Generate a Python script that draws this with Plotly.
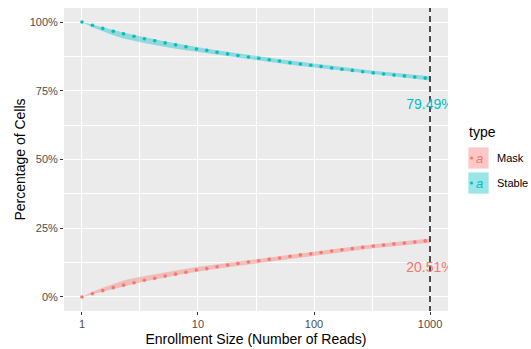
import plotly.graph_objects as go

# ---- data ----
reads = [1, 1.23, 1.51, 1.86, 2.28, 2.81, 3.45, 4.24, 5.21, 6.41, 7.88, 9.68,
         11.9, 14.6, 18.0, 22.1, 27.2, 33.4, 41.1, 50.5, 62.1, 76.3, 93.8, 115,
         142, 174, 214, 263, 324, 398, 489, 601, 739, 908]
stable_pct = [100, 98.8, 97.7, 96.6, 95.7, 94.8, 93.9, 93.2, 92.4, 91.7, 91.0, 90.2,
              89.7, 89.0, 88.4, 87.8, 87.3, 86.8, 86.3, 85.8, 85.2, 84.7, 84.3, 83.8,
              83.3, 82.8, 82.4, 81.9, 81.5, 81.1, 80.7, 80.4, 80.0, 79.6]
mask_pct = [0, 1.2, 2.3, 3.4, 4.3, 5.2, 6.1, 6.8, 7.6, 8.3, 9.0, 9.8,
            10.3, 11.0, 11.6, 12.2, 12.7, 13.2, 13.7, 14.2, 14.8, 15.3, 15.7, 16.2,
            16.7, 17.2, 17.6, 18.1, 18.5, 18.9, 19.3, 19.6, 20.0, 20.4]

ribbon_reads = reads + [1000]
stable_hi = [100, 99.0, 98.0, 97.0, 96.2, 95.3, 94.4, 93.7, 92.9, 92.2, 91.5, 90.8,
             90.3, 89.7, 89.1, 88.5, 88.0, 87.5, 87.0, 86.5, 86.0, 85.5, 85.1, 84.6,
             84.1, 83.6, 83.2, 82.7, 82.3, 81.9, 81.5, 81.2, 80.8, 80.4, 80.3]
stable_lo = [100, 98.1, 96.6, 95.2, 94.0, 93.1, 92.4, 91.6, 90.9, 90.3, 89.7, 89.1,
             88.6, 88.1, 87.5, 87.0, 86.5, 86.0, 85.5, 85.0, 84.5, 84.0, 83.6, 83.1,
             82.6, 82.1, 81.7, 81.3, 80.9, 80.5, 80.1, 79.7, 79.3, 78.9, 78.7]
mask_hi = [0, 1.9, 3.4, 4.8, 6.0, 6.9, 7.6, 8.4, 9.1, 9.7, 10.3, 10.9,
           11.4, 11.9, 12.5, 13.0, 13.5, 14.0, 14.5, 15.0, 15.5, 16.0, 16.4, 16.9,
           17.4, 17.9, 18.3, 18.7, 19.1, 19.5, 19.9, 20.3, 20.7, 21.1, 21.3]
mask_lo = [0, 1.0, 2.0, 3.0, 3.8, 4.7, 5.6, 6.3, 7.1, 7.8, 8.5, 9.2,
           9.7, 10.3, 10.9, 11.5, 12.0, 12.5, 13.0, 13.5, 14.0, 14.5, 14.9, 15.4,
           15.9, 16.4, 16.8, 17.3, 17.7, 18.1, 18.5, 18.8, 19.2, 19.6, 19.7]

cutoff_reads = 1000
final_labels = ["79.49%", "20.51%"]
final_label_y = [69.49, 10.51]

x_tickvals = [1, 10, 100, 1000]
x_ticktext = ["1", "10", "100", "1000"]
y_tickvals = [0, 25, 50, 75, 100]
y_ticktext = ["0%", "25%", "50%", "75%", "100%"]

RED = "#F8766D"
TEAL = "#00BFC4"
RED_A = "rgba(248,118,109,0.4)"
TEAL_A = "rgba(0,191,196,0.4)"
FONT = "Liberation Sans, Arial, sans-serif"

fig = go.Figure()

for hi, lo, col in [(mask_hi, mask_lo, RED_A), (stable_hi, stable_lo, TEAL_A)]:
    fig.add_trace(go.Scatter(
        x=ribbon_reads + ribbon_reads[::-1], y=hi + lo[::-1],
        fill="toself", fillcolor=col, line=dict(width=0),
        mode="lines", hoverinfo="skip", showlegend=False))

for vals, col in [(mask_pct, RED), (stable_pct, TEAL)]:
    fig.add_trace(go.Scatter(
        x=reads, y=vals, mode="markers",
        marker=dict(color=col, size=3.6, line=dict(width=0)),
        showlegend=False, cliponaxis=False))

fig.add_trace(go.Scatter(
    x=[cutoff_reads, cutoff_reads], y=[-20, 120], mode="lines",
    line=dict(color="#222222", width=1.6, dash="6px,4px"),
    showlegend=False, hoverinfo="skip"))

fig.add_trace(go.Scatter(
    x=[cutoff_reads, cutoff_reads], y=final_label_y, mode="text",
    text=final_labels, textposition="middle center",
    textfont=dict(color=[TEAL, RED], size=14, family=FONT),
    cliponaxis=True, showlegend=False))

# plot area in pixels
L, R, T, B = 64, 448, 8, 311
W, H = 531, 349

def px(xp):
    return (xp - L) / (R - L)

def py(yp):
    return (B - yp) / (B - T)

shapes = []
annotations = []
legend_items = [("Mask", RED, RED_A, 158), ("Stable", TEAL, TEAL_A, 183)]
for name, col, cola, cy in legend_items:
    shapes.append(dict(type="rect", xref="paper", yref="paper",
                       x0=px(468), x1=px(489), y0=py(cy - 11), y1=py(cy + 11),
                       fillcolor=cola, line=dict(width=0.8, color="white"), layer="above"))
    shapes.append(dict(type="circle", xref="paper", yref="paper",
                       xsizemode="pixel", ysizemode="pixel",
                       xanchor=px(471.5), yanchor=py(cy),
                       x0=-1.6, x1=1.6, y0=-1.6, y1=1.6,
                       fillcolor=col, line=dict(width=0), layer="above"))
    annotations.append(dict(text="<i>a</i>", x=px(479.5), y=py(cy + 0.5), xref="paper", yref="paper",
                            showarrow=False, xanchor="center", yanchor="middle",
                            font=dict(color=col, size=13, family=FONT)))
    annotations.append(dict(text=name, x=px(495), y=py(cy), xref="paper", yref="paper",
                            showarrow=False, xanchor="left", yanchor="middle",
                            font=dict(color="black", size=11, family=FONT)))
annotations.append(dict(text="type", x=px(467), y=py(132), xref="paper", yref="paper",
                        showarrow=False, xanchor="left", yanchor="middle",
                        font=dict(color="black", size=14, family=FONT)))

fig.update_layout(
    width=W, height=H,
    margin=dict(l=L, r=W - R, t=T, b=H - B, pad=0, autoexpand=False),
    paper_bgcolor="white", plot_bgcolor="#EBEBEB",
    font=dict(family=FONT),
    shapes=shapes, annotations=annotations,
    showlegend=False,
    xaxis=dict(
        type="log", range=[-0.155, 3.155], automargin=False,
        tickvals=x_tickvals, ticktext=x_ticktext,
        ticks="outside", ticklen=3, tickcolor="#333333", tickwidth=1,
        tickfont=dict(size=11, color="#4D4D4D"),
        showgrid=True, gridcolor="white", gridwidth=1.1,
        zeroline=False, showline=False,
        minor=dict(tickvals=[3.1623, 31.623, 316.23], showgrid=True,
                   gridcolor="white", gridwidth=0.5, ticks=""),
        title=dict(text="Enrollment Size (Number of Reads)",
                   font=dict(size=14, color="black"), standoff=4),
    ),
    yaxis=dict(
        range=[-5.1, 105.1], automargin=False,
        tickvals=y_tickvals, ticktext=y_ticktext,
        ticks="outside", ticklen=3, tickcolor="#333333", tickwidth=1,
        tickfont=dict(size=11, color="#4D4D4D"),
        showgrid=True, gridcolor="white", gridwidth=1.1,
        zeroline=False, showline=False,
        minor=dict(tickvals=[12.5, 37.5, 62.5, 87.5], showgrid=True,
                   gridcolor="white", gridwidth=0.5, ticks=""),
        title=dict(text="Percentage of Cells",
                   font=dict(size=14, color="black"), standoff=0),
    ),
)

fig.write_html("out.html", config={"displayModeBar": False},
               post_script=["document.body.style.margin='0';document.body.style.overflow='hidden';"])
